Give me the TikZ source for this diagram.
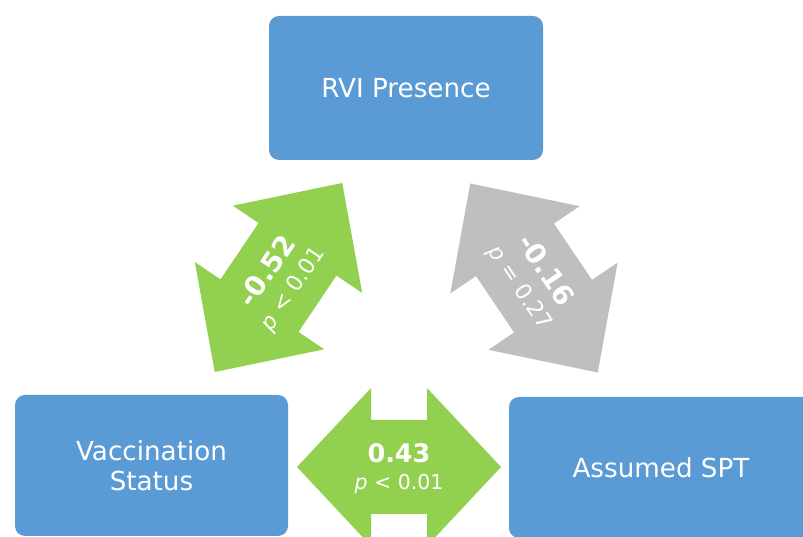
\documentclass[tikz,border=0pt]{standalone}
\usepackage{fontspec}
\setmainfont{DejaVu Sans}
\definecolor{boxblue}{HTML}{5B9BD5}
\definecolor{arrgreen}{HTML}{92D050}
\definecolor{arrgray}{HTML}{BFBFBF}
\tikzset{
  box/.style={fill=boxblue, rounded corners=10pt, text=white, align=center, inner sep=0pt,
    font=\fontsize{26.2}{30}\selectfont},
  lbl/.style={text=white, align=center, inner sep=0pt, font=\fontsize{20.5}{27}\selectfont},
  dlbl/.style={text=white, align=center, inner sep=0pt, font=\fontsize{22}{29}\selectfont},
}
\newcommand{\numl}[1]{{\bfseries\fontsize{25.5}{27}\selectfont #1}}
\newcommand{\numd}[1]{{\bfseries\fontsize{27.5}{29}\selectfont #1}}
\begin{document}
\begin{tikzpicture}[x=1pt,y=1pt]
\useasboundingbox (0,0) rectangle (803,537);
\fill[white] (0,0) rectangle (803,537);
\begin{scope}
\clip (0,0) rectangle (803,537);
% boxes
\node[box, minimum width=274pt, minimum height=144pt] (rvi) at (406,449) {RVI Presence};
\node[box, minimum width=273pt, minimum height=141pt] (vac) at (151.5,71.5) {Vaccination\\Status};
\node[box, minimum width=304pt, minimum height=141pt] (spt) at (661,69.5) {Assumed SPT};
% block arrows
\begin{scope}[shift={(278.5,259.5)}, rotate=56]
\fill[arrgreen] (-114,0) -- (-34,78) -- (-34,47) -- (34,47) -- (34,78) -- (114,0)
  -- (34,-78) -- (34,-47) -- (-34,-47) -- (-34,-78) -- cycle;
\end{scope}
\begin{scope}[shift={(534,259)}, rotate=-56]
\fill[arrgray] (-114,0) -- (-34,78) -- (-34,47) -- (34,47) -- (34,78) -- (114,0)
  -- (34,-78) -- (34,-47) -- (-34,-47) -- (-34,-78) -- cycle;
\end{scope}
\begin{scope}[shift={(399,70)}]
\fill[arrgreen] (-102,0) -- (-28,79) -- (-28,47) -- (28,47) -- (28,79) -- (102,0)
  -- (28,-79) -- (28,-47) -- (-28,-47) -- (-28,-79) -- cycle;
\end{scope}
\end{scope}
% labels
\node[dlbl, rotate=56] (lg) at (280,257) {\numd{-0.52}\\\textit{p} < 0.01};
\node[dlbl, rotate=-56] (lr) at (533,258) {\numd{-0.16}\\\textit{p} = 0.27};
\node[lbl] (lh) at (399,68) {\numl{0.43}\\\textit{p} < 0.01};
\end{tikzpicture}
\end{document}
